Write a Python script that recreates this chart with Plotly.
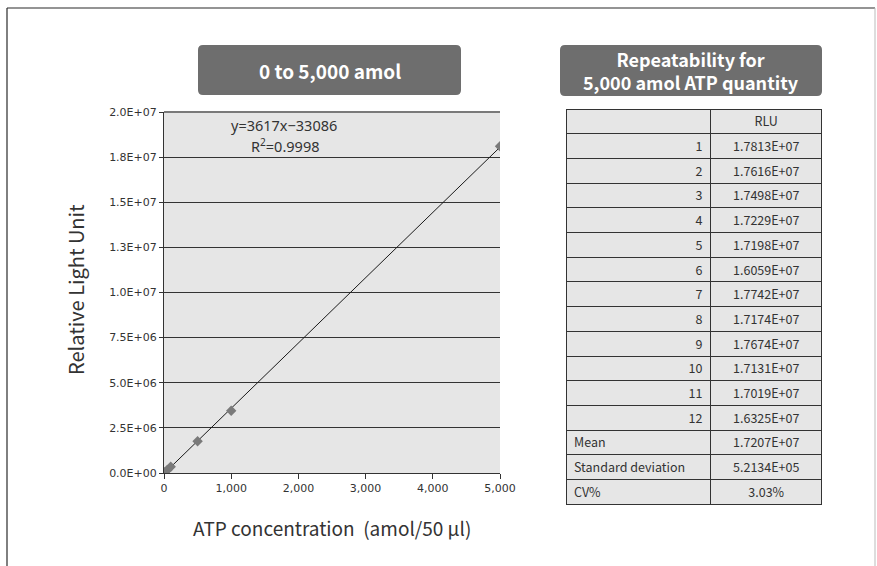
import plotly.graph_objects as go

W, H = 877, 566

# ---- data ----
atp_amol = [0, 10, 50, 100, 500, 1000, 5000]
rlu = [0, 40000, 170000, 350000, 1760000, 3450000, 18100000]
slope = 3617
intercept = -33086
r2 = "0.9998"

y_tickvals = [0, 2.5e6, 5e6, 7.5e6, 1e7, 1.25e7, 1.5e7, 1.75e7, 2e7]
y_ticktext = ["0.0E+00", "2.5E+06", "5.0E+06", "7.5E+06", "1.0E+07",
              "1.3E+07", "1.5E+07", "1.8E+07", "2.0E+07"]
x_tickvals = [0, 1000, 2000, 3000, 4000, 5000]

run_labels = [str(i) for i in range(1, 13)]
run_rlu = ["1.7813E+07", "1.7616E+07", "1.7498E+07", "1.7229E+07", "1.7198E+07",
           "1.6059E+07", "1.7742E+07", "1.7174E+07", "1.7674E+07", "1.7131E+07",
           "1.7019E+07", "1.6325E+07"]
stat_labels = ["Mean", "Standard deviation", "CV%"]
stat_values = ["1.7207E+07", "5.2134E+05", "3.03%"]

left_title = "0 to 5,000 amol"
right_title = "Repeatability for<br>5,000 amol ATP quantity"


def px(x):
    return x / W


def py(y):
    return 1 - y / H


fig = go.Figure()

# trend line from the stated equation
tx = [min(atp_amol), max(atp_amol)]
ty = [slope * v + intercept for v in tx]
fig.add_trace(go.Scatter(x=tx, y=ty, mode="lines",
                         line=dict(color="#1a1a1a", width=1), hoverinfo="skip",
                         showlegend=False))
fig.add_trace(go.Scatter(x=atp_amol, y=rlu, mode="markers",
                         marker=dict(symbol="diamond", size=8, color="#7a7a7a"),
                         showlegend=False))

# tables
ROW_H = 24.7
TOP = 109
tfont = dict(family="Noto Sans CJK JP", size=12.5, color="#333333")
tline = dict(color="#333333", width=1)
mid = TOP + 13 * ROW_H
fig.add_trace(go.Table(
    domain=dict(x=[px(566), px(823)], y=[py(mid + 1), py(TOP)]),
    columnwidth=[145, 112],
    header=dict(values=["", "RLU"], fill_color="#e6e6e6", align=["center", "center"],
                line=tline, height=ROW_H, font=tfont),
    cells=dict(values=[run_labels, run_rlu], fill_color="#e6e6e6",
               align=["right", "center"], line=tline, height=ROW_H, font=tfont),
))
fig.add_trace(go.Table(
    domain=dict(x=[px(566), px(823)], y=[py(mid + 3 * ROW_H + 1), py(mid)]),
    columnwidth=[145, 112],
    header=dict(values=[stat_labels[0], stat_values[0]], fill_color="#e6e6e6",
                align=["left", "center"], line=tline, height=ROW_H, font=tfont),
    cells=dict(values=[stat_labels[1:], stat_values[1:]], fill_color="#e6e6e6",
               align=["left", "center"], line=tline, height=ROW_H, font=tfont),
))

x0, x1 = 164, 500
y0, y1 = 473, 112

fig.update_layout(
    width=W, height=H,
    margin=dict(l=0, r=0, t=0, b=0, autoexpand=False),
    paper_bgcolor="white",
    plot_bgcolor="#e6e6e6",
    xaxis=dict(domain=[px(x0), px(x1)], range=[0, 5000], tickvals=x_tickvals,
               tickformat=",", showgrid=False, zeroline=False,
               showline=True, linecolor="#333333", linewidth=1,
               ticks="outside", ticklen=5, tickcolor="#333333",
               tickfont=dict(family="DejaVu Sans", size=11, color="#333333")),
    yaxis=dict(domain=[py(y0), py(y1)], range=[0, 2e7], tickvals=y_tickvals,
               ticktext=y_ticktext, showgrid=True, gridcolor="#333333", gridwidth=1,
               zeroline=False, showline=True, linecolor="#333333", linewidth=1,
               ticks="outside", ticklen=4, tickcolor="#333333",
               tickfont=dict(family="DejaVu Sans", size=11, color="#333333")),
    font=dict(family="Noto Sans CJK JP", color="#333333"),
)


def rounded_box(xa, ya, xb, yb, r=5):
    rx, ry = r / W, r / H
    a, b, c, d = px(xa), px(xb), py(ya), py(yb)  # c top, d bottom
    return (f"M {a+rx},{c} L {b-rx},{c} Q {b},{c} {b},{c-ry} L {b},{d+ry} "
            f"Q {b},{d} {b-rx},{d} L {a+rx},{d} Q {a},{d} {a},{d+ry} "
            f"L {a},{c-ry} Q {a},{c} {a+rx},{c} Z")


shapes = [
    dict(type="path", xref="paper", yref="paper", path=rounded_box(198, 45, 461, 95),
         fillcolor="#6e6e6e", line=dict(width=0), layer="below"),
    dict(type="path", xref="paper", yref="paper", path=rounded_box(560, 45, 822, 96),
         fillcolor="#6e6e6e", line=dict(width=0), layer="below"),
    # outer frame
    dict(type="line", xref="paper", yref="paper", x0=px(7), x1=px(875), y0=py(8), y1=py(8),
         line=dict(color="#2a2a2a", width=1.2)),
    dict(type="line", xref="paper", yref="paper", x0=px(7), x1=px(7), y0=py(8), y1=0,
         line=dict(color="#2a2a2a", width=1.2)),
    dict(type="line", xref="paper", yref="paper", x0=px(875), x1=px(875), y0=py(8), y1=0,
         line=dict(color="#bbbbbb", width=1)),
    # plot top border
    dict(type="line", xref="x domain", yref="y domain", x0=0, x1=1, y0=1, y1=1,
         line=dict(color="#7a7a7a", width=2)),
]
fig.update_layout(shapes=shapes)

ann_common = dict(xref="paper", yref="paper", showarrow=False,
                  xanchor="center", yanchor="middle")
eq_font = dict(size=14.5, color="#333333", family="Noto Sans")
annotations = [
    dict(text=f"<b>{left_title}</b>", x=px(330), y=py(70),
         font=dict(size=19, color="white", family="Noto Sans CJK JP"), **ann_common),
    dict(text=f"<b>{right_title}</b>", x=px(691), y=py(70.5),
         font=dict(size=18, color="white", family="Noto Sans CJK JP"), **ann_common),
    dict(text=f"y={slope}x−{abs(intercept)}", x=px(284), y=py(125),
         font=eq_font, **ann_common),
    dict(text=f"R<sup>2</sup>={r2}", x=px(285), y=py(145),
         font=eq_font, **ann_common),
    dict(text="Relative Light Unit", x=px(75), y=py(290), textangle=-90,
         font=dict(size=20, color="#333333", family="Noto Sans CJK JP"), **ann_common),
    dict(text="ATP concentration\u00a0 (amol/50 μl)", x=px(332), y=py(527),
         font=dict(size=19, color="#333333", family="Noto Sans CJK JP"), **ann_common),
]
fig.update_layout(annotations=annotations)

fig.write_html("out.html", config={"displayModeBar": False},
               post_script="document.body.style.margin='0';document.body.style.padding='0';")
